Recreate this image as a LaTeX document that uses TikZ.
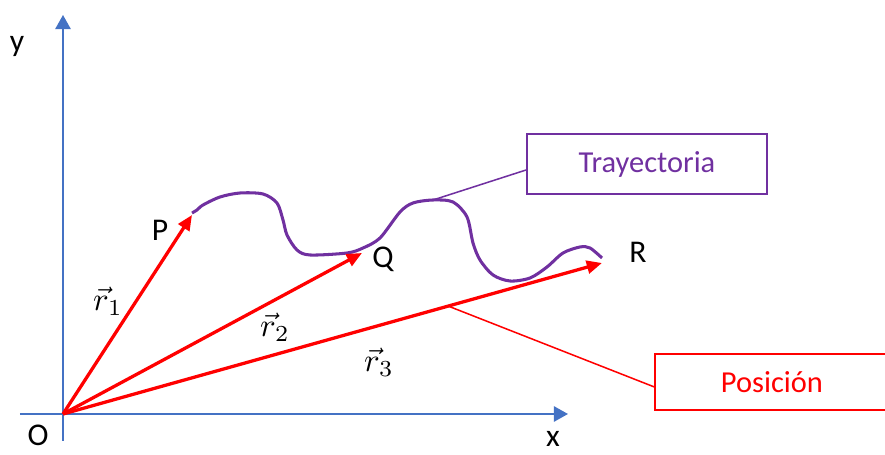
\documentclass[tikz,border=0pt]{standalone}
\usepackage{fontspec}
\setmainfont{Carlito}
\usetikzlibrary{arrows.meta}
\definecolor{ejeazul}{HTML}{4472C4}
\definecolor{morado}{HTML}{7030A0}
\begin{document}
\begin{tikzpicture}[x=0.03cm,y=0.03cm,
    eje/.style={ejeazul, line width=1.7pt, -{Triangle[length=12pt,width=13pt]}},
    vec/.style={red, line width=2.8pt, -{Triangle[length=13pt,width=11pt]}},
    etiq/.style={font=\fontsize{27}{31}\selectfont, inner sep=0pt},
    vlab/.style={font=\fontsize{10}{12}\selectfont, inner sep=0pt, scale=2.8},
    caja/.style={draw, line width=1.6pt, font=\fontsize{26}{30}\selectfont}]
    \useasboundingbox (-63,-41) rectangle (822,414);
    % ejes
    \coordinate (O) at (0,0);
    \coordinate (ybot) at (0,-27);
    \coordinate (ytop) at (0,399);
    \coordinate (xizq) at (-43,0);
    \coordinate (xder) at (505,0);
    \draw[eje] (ybot) -- (ytop);
    \draw[eje] (xizq) -- (xder);
    \node[etiq] (ylab) at (-46,367) {y};
    \node[etiq] (xlab) at (490,-25) {x};
    \node[etiq] (olab) at (-25,-21) {O};
    % trayectoria
    \draw[morado, line width=2.6pt, line join=round] plot[smooth, tension=0.5] coordinates {
      (129,201) (134,204) (140,209) (157,217) (177,221) (200,220) (214,211) (220,194) (224,179)
      (234,164) (247,159) (284,161) (300,166) (317,176) (337,202) (350,211) (370,214)
      (390,212) (404,197) (410,171) (417,154) (430,139) (447,133) (467,136) (484,147)
      (500,161) (517,167) (527,166) (539,156)};
    % vectores de posicion
    \coordinate (P) at (129,199);
    \coordinate (Q) at (299,161);
    \coordinate (R) at (539,151);
    \draw[vec] (O) -- (P);
    \draw[vec] (O) -- (Q);
    \draw[vec] (O) -- (R);
    \node[etiq] (plab) at (97,184) {P};
    \node[etiq] (qlab) at (320,155) {Q};
    \node[etiq] (rlab) at (575,162) {R};
    \node[vlab] (r1) at (45,113) {$\vec{r}_1$};
    \node[vlab] (r2) at (212,87) {$\vec{r}_2$};
    \node[vlab] (r3) at (316,52) {$\vec{r}_3$};
    % cajas
    \node[caja, morado, minimum width=7.2cm, minimum height=1.8cm] (tray) at (584,250) {Trayectoria};
    \node[caja, red, minimum width=7cm, minimum height=1.68cm] (pos) at (709,32) {Posición};
    \coordinate (trayPt) at (370,214);
    \coordinate (posPt) at (385,108);
    \draw[morado, line width=1.3pt] ([yshift=-0.18cm]tray.west) -- (trayPt);
    \draw[red, line width=1.3pt] ([yshift=-0.15cm]pos.west) -- (posPt);
\end{tikzpicture}
\end{document}
